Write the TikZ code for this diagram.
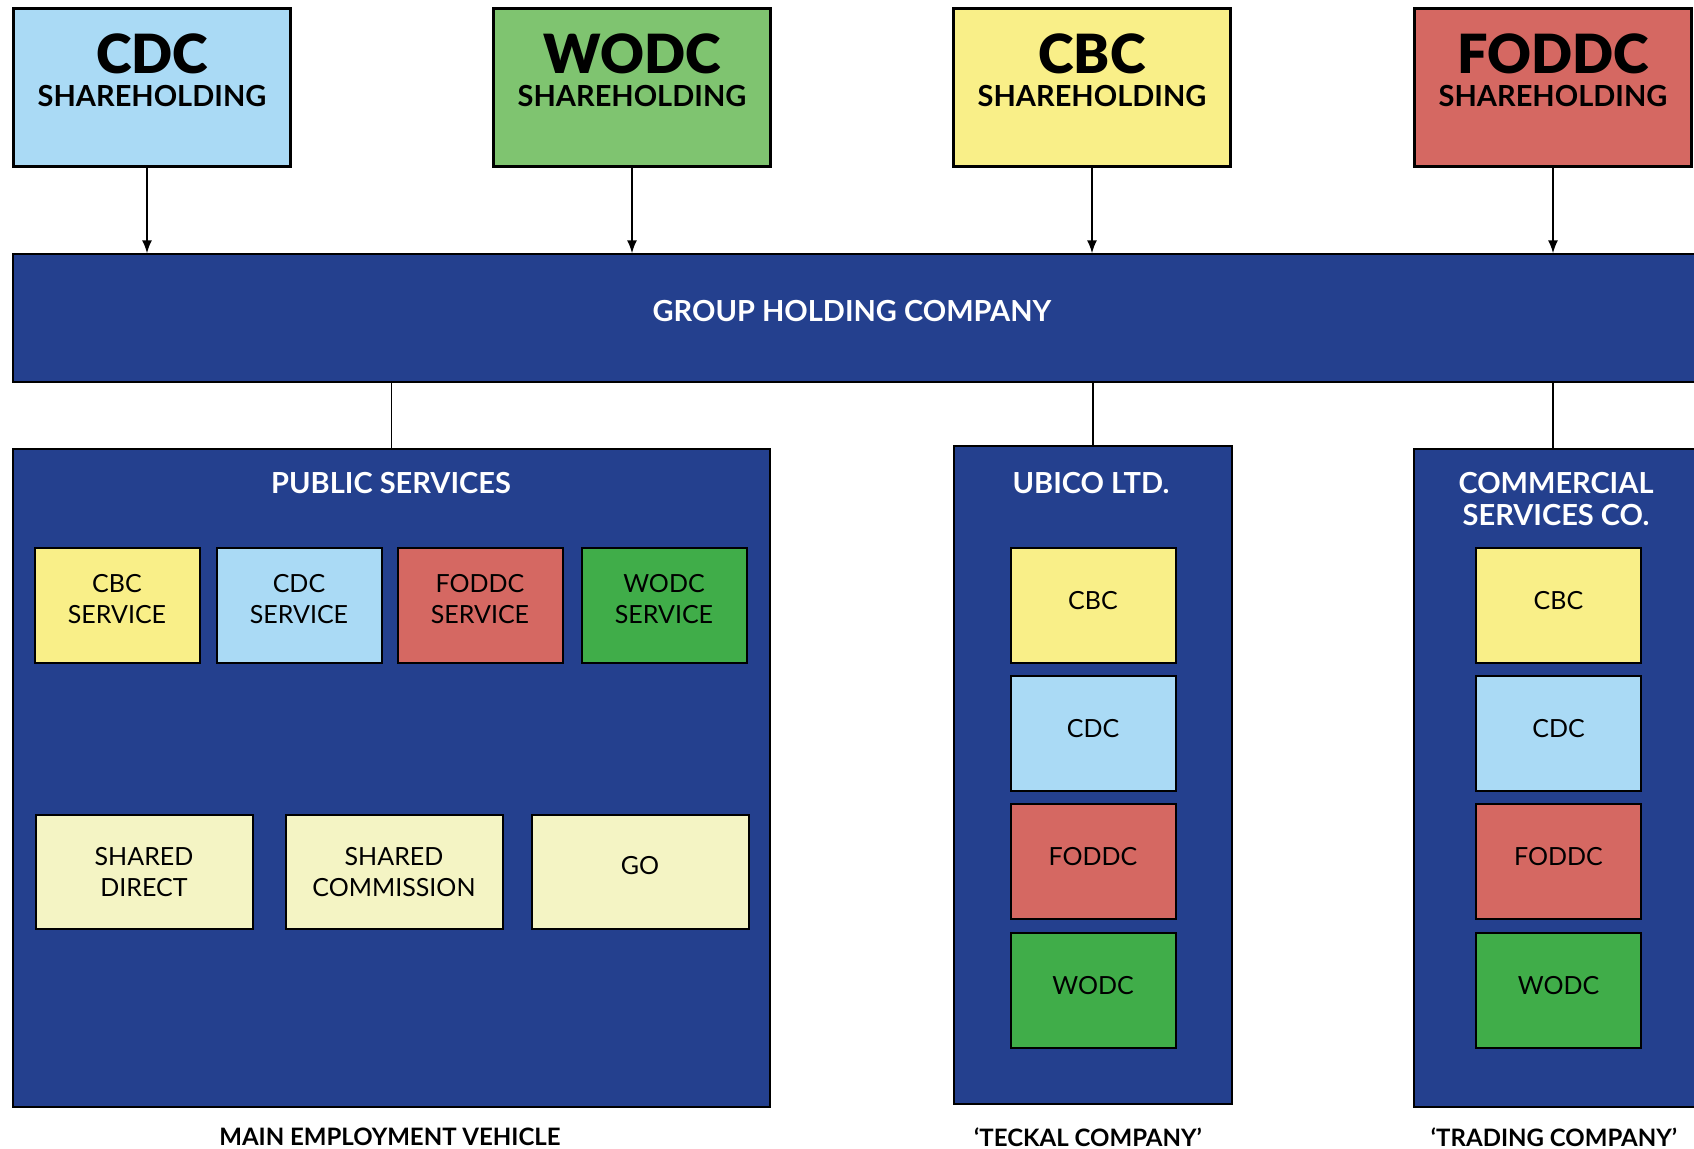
\documentclass[tikz,border=0pt]{standalone}
\usepackage{fontspec}
\setmainfont{Lato}
\newfontfamily\heavyfont{Lato Black}
\usetikzlibrary{arrows.meta}

\definecolor{cdcblue}{HTML}{AADAF5}
\definecolor{wodclight}{HTML}{7FC470}
\definecolor{wodcgreen}{HTML}{40AD49}
\definecolor{cbcyellow}{HTML}{F9EF88}
\definecolor{foddcred}{HTML}{D56862}
\definecolor{groupnavy}{HTML}{24408E}
\definecolor{sharedpale}{HTML}{F4F4C4}

\begin{document}
\begin{tikzpicture}[x=0.5pt, y=-0.5pt]
    \tikzset{
        share/.style={draw=black, line width=1.5pt, minimum width=138.5pt, minimum height=79pt, inner sep=0pt},
        sharename/.style={font=\fontsize{27}{30}\heavyfont, inner sep=0pt},
        sharesub/.style={font=\fontsize{14.5}{16}\selectfont\bfseries, inner sep=0pt},
        company/.style={draw=black, line width=0.75pt, fill=groupnavy, inner sep=0pt},
        title/.style={text=white, align=center, font=\fontsize{14.5}{16.2}\selectfont\bfseries, inner sep=0pt},
        unit/.style={draw=black, line width=1pt, align=center, inner sep=0pt, font=\fontsize{12.5}{15.7}\selectfont},
        service/.style={unit, minimum width=82.5pt, minimum height=57.5pt, text depth=6pt},
        single/.style={unit, minimum width=82.5pt, minimum height=57.5pt, text depth=4.4pt},
        shared/.style={unit, fill=sharedpale, minimum width=108.5pt, minimum height=57pt},
        caption/.style={font=\fontsize{12}{14}\selectfont\bfseries, inner sep=0pt},
        conn/.style={line width=0.75pt},
        feed/.style={conn, -{Latex[length=6.5pt, width=5pt]}},
    }

    \useasboundingbox (0,0) rectangle (1694,1148);
    \clip (0,0) rectangle (1694,1148);

    % Shareholders
    \node[share, fill=cdcblue]    (cdcshare)   at (152,87)  {};
    \node[share, fill=wodclight]  (wodcshare)  at (632,87)  {};
    \node[share, fill=cbcyellow]  (cbcshare)   at (1092,87) {};
    \node[share, fill=foddcred]   (foddcshare) at (1553,87) {};
    \node[sharename] (cdcname)   at (152,54)  {CDC};
    \node[sharename] (wodcname)  at (632,54)  {WODC};
    \node[sharename] (cbcname)   at (1092,54) {CBC};
    \node[sharename] (foddcname) at (1553,54) {FODDC};
    \node[sharesub]  (cdcsub)   at (152,96)  {SHAREHOLDING};
    \node[sharesub]  (wodcsub)  at (632,96)  {SHAREHOLDING};
    \node[sharesub]  (cbcsub)   at (1092,96) {SHAREHOLDING};
    \node[sharesub]  (foddcsub) at (1553,96) {SHAREHOLDING};

    % Group holding company
    \node[company, minimum width=843.5pt, minimum height=64pt] (group) at (856.5,318) {};
    \node[title] (grouptitle) at (852,311) {GROUP HOLDING COMPANY};

    % Companies
    \node[company, minimum width=378.5pt, minimum height=329pt] (public)     at (391.5,778) {};
    \node[company, minimum width=139pt,   minimum height=329pt] (ubico)      at (1093,775)  {};
    \node[company, minimum width=144.5pt, minimum height=329pt] (commercial) at (1558.5,778) {};
    \node[title] (publictitle)     at (391,483)    {PUBLIC SERVICES};
    \node[title] (ubicotitle)      at (1091,483)   {UBICO LTD.};
    \node[title] (commercialtitle) at (1556,499)   {COMMERCIAL\\SERVICES CO.};

    % Public services units
    \node[service, fill=cbcyellow] (pscbc)   at (117,605)   {CBC\\SERVICE};
    \node[service, fill=cdcblue]   (pscdc)   at (299,605)   {CDC\\SERVICE};
    \node[service, fill=foddcred]  (psfoddc) at (480,605)   {FODDC\\SERVICE};
    \node[service, fill=wodcgreen] (pswodc)  at (664,605)   {WODC\\SERVICE};
    \node[shared] (psdirect) at (144,872) {SHARED\\DIRECT};
    \node[shared] (pscomm)   at (394,872) {SHARED\\COMMISSION};
    \node[shared, text depth=6.4pt] (psgo) at (640,872) {GO};

    % Ubico units
    \node[single, fill=cbcyellow] (ubcbc)   at (1093,605) {CBC};
    \node[single, fill=cdcblue]   (ubcdc)   at (1093,733) {CDC};
    \node[single, fill=foddcred]  (ubfoddc) at (1093,861) {FODDC};
    \node[single, fill=wodcgreen] (ubwodc)  at (1093,990) {WODC};

    % Commercial units
    \node[single, fill=cbcyellow] (cscbc)   at (1558.5,605) {CBC};
    \node[single, fill=cdcblue]   (cscdc)   at (1558.5,733) {CDC};
    \node[single, fill=foddcred]  (csfoddc) at (1558.5,861) {FODDC};
    \node[single, fill=wodcgreen] (cswodc)  at (1558.5,990) {WODC};

    % Captions
    \node[caption] (publiccap)     at (390,1137)  {MAIN EMPLOYMENT VEHICLE};
    \node[caption] (ubicocap)      at (1088,1137) {‘TECKAL COMPANY’};
    \node[caption] (commercialcap) at (1554,1137) {‘TRADING COMPANY’};

    % Links
    \draw[feed] ([xshift=-2.5pt]cdcshare.south) -- ([xshift=-2.5pt]cdcshare.south |- group.north);
    \draw[feed] (wodcshare.south)  -- (wodcshare.south |- group.north);
    \draw[feed] (cbcshare.south)   -- (cbcshare.south |- group.north);
    \draw[feed] (foddcshare.south) -- (foddcshare.south |- group.north);
    \draw[conn] (public.north |- group.south) -- (public.north);
    \draw[conn] (ubico.north |- group.south)  -- (ubico.north);
    \draw[conn] (foddcshare.south |- group.south) -- (foddcshare.south |- commercial.north);
\end{tikzpicture}
\end{document}
